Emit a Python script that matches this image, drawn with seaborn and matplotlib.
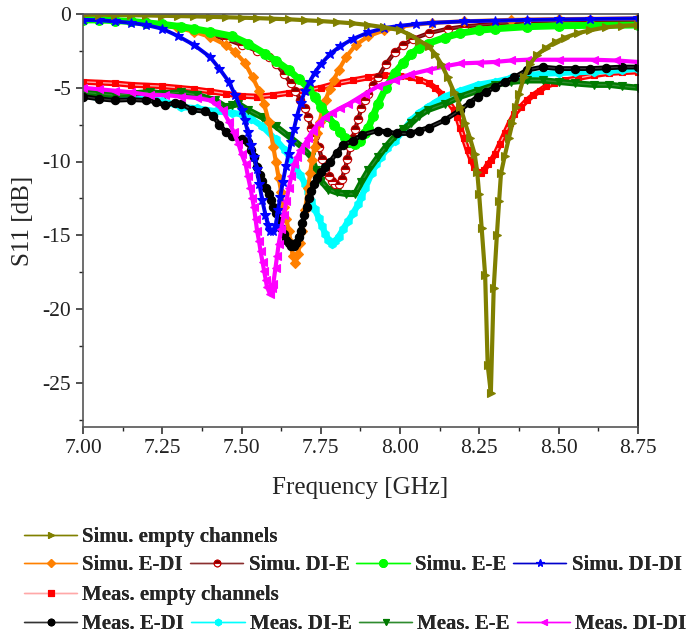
import matplotlib
matplotlib.use("Agg")
import matplotlib.pyplot as plt
from matplotlib.ticker import MultipleLocator, FormatStrFormatter
import seaborn as sns

# ── Data ───────────────────────────────────────────────────────────────────────
f_sim_empty = [7.00, 7.05, 7.10, 7.15, 7.20, 7.25, 7.30, 7.35, 7.40, 7.45, 7.50, 7.55, 7.60, 7.65,
               7.70, 7.75, 7.80, 7.85, 7.90, 7.95, 8.00, 8.03, 8.06, 8.09, 8.11, 8.13, 8.15, 8.17,
               8.19, 8.205, 8.22, 8.235, 8.243, 8.249, 8.257, 8.268, 8.276, 8.286, 8.295, 8.305,
               8.312, 8.318, 8.33, 8.343, 8.354, 8.364, 8.375, 8.39, 8.41, 8.43, 8.46, 8.49, 8.52,
               8.56, 8.60, 8.65, 8.70, 8.75]
s_sim_empty = [-0.05, -0.05, -0.07, -0.08, -0.1, -0.12, -0.14, -0.16, -0.19, -0.22, -0.25, -0.28,
               -0.32, -0.36, -0.42, -0.48, -0.55, -0.63, -0.75, -0.9, -1.1, -1.4, -1.8, -2.2, -2.7,
               -3.4, -4.3, -5.3, -6.3, -7.4, -8.4, -9.5, -10.7, -12.2, -14.5, -17.7, -23.8, -25.7,
               -18.6, -15.0, -12.7, -10.8, -9.6, -8.4, -7.4, -6.3, -5.4, -4.3, -3.4, -2.8, -2.3,
               -1.9, -1.6, -1.3, -1.1, -0.9, -0.8, -0.75]

f_sim_edi = [7.00, 7.05, 7.10, 7.15, 7.20, 7.25, 7.30, 7.35, 7.40, 7.45, 7.48, 7.51, 7.535, 7.555,
             7.571, 7.586, 7.60, 7.608, 7.617, 7.625, 7.633, 7.641, 7.649, 7.655, 7.661, 7.67,
             7.678, 7.684, 7.69, 7.70, 7.71, 7.716, 7.722, 7.73, 7.738, 7.746, 7.755, 7.765,
             7.778, 7.79, 7.806, 7.83, 7.86, 7.90, 7.95, 8.00, 8.10, 8.20, 8.35, 8.50, 8.75]
s_sim_edi = [-0.3, -0.35, -0.4, -0.5, -0.6, -0.75, -0.95, -1.2, -1.55, -2.1, -2.6, -3.3, -4.3, -5.2,
             -6.1, -7.3, -9.0, -10.0, -11.1, -12.1, -13.1, -13.9, -14.7, -15.5, -16.4, -16.9,
             -16.3, -15.5, -14.7, -13.3, -11.8, -10.8, -9.9, -9.0, -8.1, -7.3, -6.5, -5.8, -5.1,
             -4.5, -3.8, -2.9, -2.1, -1.5, -1.1, -0.85, -0.6, -0.5, -0.4, -0.35, -0.3]

f_sim_die = [7.00, 7.10, 7.20, 7.30, 7.35, 7.40, 7.45, 7.50, 7.55, 7.585, 7.61, 7.635, 7.655, 7.67,
             7.685, 7.70, 7.71, 7.72, 7.73, 7.743, 7.753, 7.764, 7.775, 7.785, 7.796, 7.806,
             7.816, 7.826, 7.834, 7.842, 7.85, 7.858, 7.868, 7.878, 7.89, 7.90, 7.915, 7.93,
             7.955, 7.983, 8.01, 8.04, 8.09, 8.15, 8.20, 8.30, 8.40, 8.50, 8.60, 8.75]
s_sim_die = [-0.3, -0.4, -0.55, -0.9, -1.15, -1.4, -1.7, -2.1, -2.5, -2.9, -3.4, -4.1, -4.7, -5.2,
             -5.8, -6.4, -7.0, -7.7, -8.3, -9.0, -9.8, -10.5, -11.0, -11.3, -11.5, -11.5, -11.2,
             -10.5, -9.8, -9.0, -8.4, -7.8, -7.1, -6.4, -5.8, -5.4, -4.8, -4.3, -3.4, -2.6, -2.1,
             -1.7, -1.3, -1.0, -0.85, -0.65, -0.5, -0.45, -0.42, -0.4]

f_sim_ee = [7.00, 7.05, 7.10, 7.15, 7.20, 7.25, 7.31, 7.35, 7.40, 7.47, 7.52, 7.574, 7.61, 7.649,
            7.68, 7.71, 7.73, 7.752, 7.77, 7.793, 7.81, 7.826, 7.842, 7.858, 7.875, 7.89, 7.90,
            7.915, 7.93, 7.955, 7.983, 8.01, 8.035, 8.06, 8.088, 8.14, 8.19, 8.25, 8.30, 8.40,
            8.50, 8.60, 8.75]
s_sim_ee = [-0.4, -0.4, -0.45, -0.5, -0.6, -0.7, -0.86, -1.0, -1.2, -1.5, -2.0, -2.7, -3.2, -3.8,
            -4.4, -5.0, -5.6, -6.3, -6.9, -7.5, -8.0, -8.4, -8.7, -8.8, -8.6, -8.1, -7.7, -6.9,
            -6.1, -5.0, -4.0, -3.3, -2.7, -2.3, -2.0, -1.6, -1.3, -1.1, -1.0, -0.86, -0.8, -0.77,
            -0.75]

f_sim_didi = [7.00, 7.05, 7.10, 7.15, 7.20, 7.25, 7.30, 7.35, 7.40, 7.43, 7.46, 7.48, 7.50, 7.51,
              7.52, 7.53, 7.54, 7.548, 7.556, 7.565, 7.575, 7.583, 7.59, 7.598, 7.607, 7.615,
              7.622, 7.63, 7.64, 7.648, 7.656, 7.665, 7.675, 7.687, 7.70, 7.715, 7.73, 7.75, 7.78,
              7.81, 7.85, 7.90, 7.95, 8.00, 8.05, 8.10, 8.20, 8.30, 8.40, 8.50, 8.60, 8.75]
s_sim_didi = [-0.4, -0.42, -0.5, -0.6, -0.75, -1.0, -1.5, -2.1, -2.9, -3.7, -4.6, -5.5, -6.5, -7.2,
              -8.0, -8.9, -9.7, -10.5, -11.5, -12.6, -13.6, -14.3, -14.7, -14.7, -14.4, -13.3,
              -12.4, -11.4, -10.3, -9.5, -8.7, -7.8, -6.9, -6.0, -5.2, -4.6, -4.0, -3.4, -2.7,
              -2.2, -1.7, -1.25, -0.95, -0.8, -0.68, -0.6, -0.5, -0.45, -0.4, -0.37, -0.34, -0.3]

f_meas_empty = [7.00, 7.05, 7.10, 7.15, 7.20, 7.25, 7.30, 7.35, 7.40, 7.45, 7.50, 7.55, 7.60, 7.65,
                7.70, 7.75, 7.80, 7.85, 7.90, 7.95, 8.00, 8.035, 8.06, 8.09, 8.11, 8.13, 8.15,
                8.17, 8.18, 8.19, 8.20, 8.213, 8.225, 8.234, 8.245, 8.255, 8.265, 8.276, 8.288,
                8.30, 8.315, 8.33, 8.345, 8.36, 8.38, 8.40, 8.42, 8.44, 8.46, 8.485, 8.52, 8.56,
                8.61, 8.66, 8.70, 8.75]
s_meas_empty = [-4.6, -4.65, -4.7, -4.8, -4.85, -4.9, -5.0, -5.1, -5.25, -5.4, -5.55, -5.6, -5.5,
                -5.35, -5.2, -5.0, -4.7, -4.5, -4.3, -4.15, -4.2, -4.3, -4.45, -4.7, -5.0, -5.4,
                -5.9, -6.5, -7.0, -7.7, -8.4, -9.25, -9.9, -10.4, -10.7, -10.8, -10.6, -10.2,
                -9.9, -9.5, -8.8, -8.1, -7.4, -6.8, -6.3, -5.85, -5.5, -5.2, -4.9, -4.7, -4.5,
                -4.35, -4.15, -4.0, -3.95, -3.9]

f_meas_edi = [7.00, 7.05, 7.10, 7.15, 7.20, 7.23, 7.26, 7.29, 7.31, 7.345, 7.385, 7.41, 7.43, 7.45,
              7.47, 7.50, 7.52, 7.53, 7.539, 7.549, 7.557, 7.565, 7.576, 7.586, 7.593, 7.60,
              7.608, 7.617, 7.625, 7.633, 7.641, 7.649, 7.657, 7.665, 7.672, 7.68, 7.686, 7.692,
              7.698, 7.705, 7.712, 7.72, 7.728, 7.737, 7.75, 7.764, 7.78, 7.80, 7.82, 7.85, 7.88,
              7.93, 7.96, 7.99, 8.03, 8.06, 8.09, 8.14, 8.19, 8.22, 8.245, 8.27, 8.30, 8.33,
              8.36, 8.40, 8.45, 8.50, 8.55, 8.60, 8.65, 8.70, 8.75]
s_meas_edi = [-5.6, -5.75, -5.85, -5.8, -5.85, -5.95, -6.2, -6.0, -6.1, -6.5, -6.6, -6.9, -7.5,
              -8.0, -8.3, -8.5, -8.7, -9.2, -9.7, -10.4, -10.9, -11.3, -11.8, -12.2, -12.6, -13.1,
              -13.5, -14.0, -14.5, -14.9, -15.3, -15.5, -15.7, -15.7, -15.5, -15.1, -14.7, -14.2,
              -13.6, -13.1, -12.5, -12.0, -11.5, -11.1, -10.7, -10.4, -10.0, -9.4, -8.9, -8.6,
              -8.2, -7.9, -8.0, -8.1, -8.1, -7.9, -7.7, -7.2, -6.5, -6.0, -5.6, -5.3, -4.95,
              -4.6, -4.3, -3.8, -3.6, -3.7, -3.7, -3.7, -3.65, -3.6, -3.6]

f_meas_die = [7.00, 7.05, 7.10, 7.15, 7.20, 7.25, 7.31, 7.36, 7.42, 7.47, 7.50, 7.53, 7.565, 7.607,
              7.638, 7.67, 7.685, 7.70, 7.71, 7.72, 7.73, 7.743, 7.754, 7.764, 7.774, 7.784,
              7.795, 7.806, 7.82, 7.837, 7.852, 7.868, 7.878, 7.89, 7.91, 7.925, 7.94, 7.96,
              7.983, 8.01, 8.035, 8.06, 8.088, 8.11, 8.14, 8.19, 8.245, 8.30, 8.35, 8.40, 8.45,
              8.50, 8.55, 8.61, 8.66, 8.70, 8.75]
s_meas_die = [-5.5, -5.7, -5.7, -5.6, -5.7, -5.9, -6.3, -6.4, -6.6, -6.7, -6.8, -7.1, -7.6, -8.5,
              -9.25, -10.4, -10.9, -11.5, -12.1, -12.7, -13.2, -13.8, -14.4, -14.9, -15.3, -15.6,
              -15.4, -15.1, -14.6, -14.0, -13.5, -12.9, -12.4, -11.8, -10.8, -10.2, -9.7, -9.1,
              -8.6, -7.9, -7.2, -6.7, -6.3, -6.0, -5.6, -5.2, -4.8, -4.6, -4.35, -4.15, -4.05,
              -4.0, -3.95, -3.9, -3.85, -3.8, -3.7]

f_meas_ee = [7.00, 7.05, 7.10, 7.15, 7.21, 7.26, 7.31, 7.36, 7.417, 7.45, 7.47, 7.49, 7.52, 7.565,
             7.607, 7.649, 7.69, 7.72, 7.735, 7.75, 7.774, 7.80, 7.83, 7.858, 7.878, 7.90, 7.93,
             7.955, 7.983, 8.01, 8.035, 8.06, 8.088, 8.14, 8.19, 8.245, 8.30, 8.35, 8.40, 8.45,
             8.50, 8.55, 8.61, 8.66, 8.70, 8.75]
s_meas_ee = [-5.3, -5.4, -5.5, -5.4, -5.3, -5.4, -5.3, -5.5, -5.85, -6.3, -6.2, -6.1, -6.5, -7.0,
             -7.6, -8.3, -9.0, -9.7, -10.6, -11.3, -11.9, -12.1, -12.2, -12.2, -11.4, -10.6, -9.7,
             -9.0, -8.3, -7.8, -7.4, -6.9, -6.5, -6.1, -5.6, -5.2, -4.8, -4.6, -4.5, -4.5, -4.6,
             -4.7, -4.8, -4.8, -4.9, -5.0]

f_meas_didi = [7.00, 7.05, 7.10, 7.15, 7.21, 7.26, 7.31, 7.36, 7.40, 7.42, 7.44, 7.46, 7.475, 7.49,
               7.50, 7.513, 7.52, 7.528, 7.534, 7.539, 7.544, 7.549, 7.555, 7.56, 7.566, 7.571,
               7.576, 7.58, 7.59, 7.597, 7.60, 7.607, 7.612, 7.617, 7.625, 7.633, 7.641, 7.649,
               7.657, 7.665, 7.675, 7.685, 7.70, 7.71, 7.725, 7.743, 7.764, 7.784, 7.81, 7.837,
               7.86, 7.89, 7.93, 7.983, 8.03, 8.088, 8.14, 8.19, 8.25, 8.30, 8.35, 8.40, 8.50,
               8.61, 8.68, 8.75]
s_meas_didi = [-5.0, -5.1, -5.2, -5.3, -5.5, -5.5, -5.6, -5.7, -5.85, -6.1, -6.5, -7.3, -8.0, -8.8,
               -9.5, -10.2, -11.0, -11.8, -12.5, -13.1, -13.9, -14.7, -15.4, -16.1, -16.8, -17.4,
               -18.0, -18.5, -19.0, -18.6, -18.3, -17.2, -16.4, -15.6, -14.6, -13.6, -12.7, -11.8,
               -11.0, -10.2, -9.7, -9.25, -8.8, -8.4, -7.9, -7.4, -7.0, -6.7, -6.4, -6.1, -5.8,
               -5.4, -4.9, -4.5, -4.1, -3.8, -3.55, -3.35, -3.3, -3.25, -3.15, -3.1, -3.1, -3.1,
               -3.15, -3.25]

xticks = [7.00, 7.25, 7.50, 7.75, 8.00, 8.25, 8.50, 8.75]
yticks = [0, -5, -10, -15, -20, -25]

# (label, freq, s11, band colour, line colour, marker, marker size, band width)
series = [
    ("Meas. empty channels", f_meas_empty, s_meas_empty, "#FF0000", "#FFA8A8", "s", 5, 4.2),
    ("Meas. DI-E", f_meas_die, s_meas_die, "#00FFFF", "#00FFFF", "h", 6, 4.5),
    ("Meas. E-E", f_meas_ee, s_meas_ee, "#007A00", "#2E8B2E", "v", 6, 4.5),
    ("Simu. DI-E", f_sim_die, s_sim_die, "#800000", "#8B3030", "o", 6, 3.0),
    ("Simu. E-DI", f_sim_edi, s_sim_edi, "#FF8000", "#FF8000", "D", 5, 3.0),
    ("Simu. E-E", f_sim_ee, s_sim_ee, "#00FF00", "#00FF00", "o", 7, 5.0),
    ("Meas. E-DI", f_meas_edi, s_meas_edi, "#000000", "#333333", "o", 6, 3.5),
    ("Simu. DI-DI", f_sim_didi, s_sim_didi, "#0000FF", "#0000CC", "*", 7, 2.8),
    ("Meas. DI-DI", f_meas_didi, s_meas_didi, "#FF00FF", "#FF00FF", "<", 6, 3.0),
    ("Simu. empty channels", f_sim_empty, s_sim_empty, "#808000", "#808000", ">", 6, 3.0),
]

# ── Style ──────────────────────────────────────────────────────────────────────
sns.set_theme(style="ticks")
plt.rcParams["font.family"] = ["Liberation Serif", "DejaVu Serif"]
plt.rcParams["axes.unicode_minus"] = False

fig = plt.figure(figsize=(6.92, 6.40), dpi=100)
ax = fig.add_axes([83 / 692, 1 - 427 / 640, (638 - 83) / 692, (427 - 14) / 640])

handles = {}
for label, f, s, c, lc, m, ms, bw in series:
    # thick band where the dense markers overlap
    sns.lineplot(x=f, y=s, ax=ax, color=c, lw=bw, errorbar=None, legend=False,
                 solid_capstyle="round")
    extra = {}
    if label == "Simu. DI-E":
        extra = dict(fillstyle="top", markerfacecoloralt="white")
    sns.lineplot(x=f, y=s, ax=ax, color=lc, lw=1.0, errorbar=None, legend=False,
                 marker=m, markersize=ms, markerfacecolor=c,
                 markeredgecolor=("#C00000" if label == "Simu. DI-E" else c),
                 markeredgewidth=0.8, **extra)
    handles[label] = ax.lines[-1]

ax.set_xlim(7.0, 8.75)
ax.set_ylim(-28, 0)
ax.set_xticks(xticks)
ax.set_yticks(yticks)
ax.xaxis.set_major_formatter(FormatStrFormatter("%.2f"))
ax.xaxis.set_minor_locator(MultipleLocator(0.125))
ax.yaxis.set_minor_locator(MultipleLocator(2.5))
ax.tick_params(axis="both", which="major", direction="out", length=5, width=1.1,
               labelsize=15.5, colors="#222222", top=False, right=False)
ax.tick_params(axis="both", which="minor", direction="out", length=3, width=1.0,
               top=False, right=False)
for sp in ax.spines.values():
    sp.set_visible(True)
    sp.set_color("#555555")
    sp.set_linewidth(1.2)
ax.spines["right"].set_color("#111111")

ax.set_xlabel("Frequency [GHz]", fontsize=18, labelpad=14)
ax.set_ylabel("S11 [dB]", fontsize=18, labelpad=6)

# ── Legend: four rows laid out like the original ──────────────────────────────
rows = [
    (["Simu. empty channels"], 537),
    (["Simu. E-DI", "Simu. DI-E", "Simu. E-E", "Simu. DI-DI"], 565),
    (["Meas. empty channels"], 595),
    (["Meas. E-DI", "Meas. DI-E", "Meas. E-E", "Meas. DI-DI"], 624),
]
for labels, ypix in rows:
    leg = fig.legend([handles[l] for l in labels], labels, loc="center left",
                     bbox_to_anchor=(24 / 692, 1 - ypix / 640), ncol=len(labels),
                     frameon=False, borderpad=0, borderaxespad=0, handlelength=2.55,
                     handletextpad=0.25, columnspacing=0.35, numpoints=1, markerscale=0.8,
                     prop={"weight": "bold", "size": 15})
    fig.add_artist(leg)

fig.savefig("out.png", dpi=100)
